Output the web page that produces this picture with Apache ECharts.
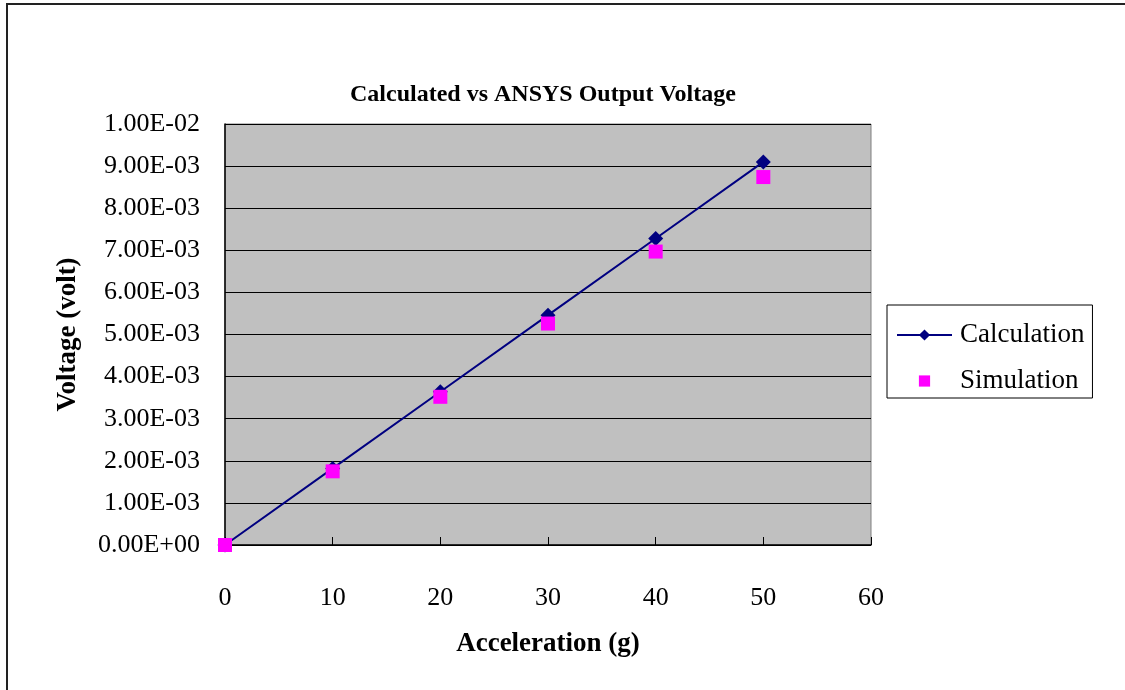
<!DOCTYPE html>
<html>
<head>
<meta charset="utf-8">
<script src="https://cdn.jsdelivr.net/npm/echarts@6/dist/echarts.min.js"></script>
<style>
  html, body { margin: 0; padding: 0; background: #fff; }
  #main { width: 1125px; height: 690px; }
</style>
</head>
<body>
<div id="main"></div>
<script>
// acceleration (g)
var acceleration = [0, 10, 20, 30, 40, 50];
// voltage (volt)
var calculation = [0, 0.00182, 0.00364, 0.00546, 0.00728, 0.0091];
var simulation = [0, 0.00175, 0.00352, 0.00526, 0.00697, 0.00874];

var xTickLabels = ['0', '10', '20', '30', '40', '50', '60'];
var yTickLabels = ['0.00E+00', '1.00E-03', '2.00E-03', '3.00E-03', '4.00E-03', '5.00E-03',
    '6.00E-03', '7.00E-03', '8.00E-03', '9.00E-03', '1.00E-02'];

var serif = '"Liberation Serif", "Times New Roman", serif';

function pairs(xs, ys) {
    return xs.map(function (x, i) { return [x, ys[i]]; });
}

var myChart = echarts.init(document.getElementById('main'));
var option = {
    backgroundColor: '#fff',
    animation: false,
    title: {
        text: 'Calculated vs ANSYS Output Voltage',
        left: 345,
        top: 78,
        textStyle: {
            fontFamily: serif,
            fontSize: 24,
            fontWeight: 'bold',
            color: '#000'
        }
    },
    graphic: [{
        type: 'rect',
        shape: { x: 7, y: 4, width: 1200, height: 800 },
        style: { fill: 'none', stroke: '#222', lineWidth: 2 },
        silent: true
    }],
    legend: {
        orient: 'vertical',
        left: 887,
        top: 305,
        padding: [15, 8, 2, 9],
        itemGap: 16,
        itemWidth: 55,
        itemHeight: 14,
        borderColor: '#000',
        borderWidth: 1,
        backgroundColor: '#fff',
        textStyle: {
            fontFamily: serif,
            fontSize: 27,
            lineHeight: 30,
            color: '#000',
            padding: [0, 0, 0, 3]
        },
        data: ['Calculation', 'Simulation']
    },
    grid: {
        left: 225,
        top: 124,
        right: 254,
        bottom: 145,
        show: true,
        backgroundColor: '#c0c0c0',
        borderColor: '#808080',
        borderWidth: 1
    },
    xAxis: {
        type: 'value',
        min: 0,
        max: 60,
        interval: 10,
        name: 'Acceleration (g)',
        nameLocation: 'middle',
        nameGap: 86,
        nameTextStyle: {
            fontFamily: serif,
            fontSize: 27,
            fontWeight: 'bold',
            color: '#000'
        },
        axisLine: { show: true, lineStyle: { color: '#000', width: 1.5 } },
        axisTick: { show: true, inside: true, length: 8, lineStyle: { color: '#000', width: 1 } },
        splitLine: { show: false },
        axisLabel: {
            margin: 40,
            fontFamily: serif,
            fontSize: 26,
            color: '#000',
            formatter: function (v) { return xTickLabels[Math.round(v / 10)]; }
        }
    },
    yAxis: {
        type: 'value',
        min: 0,
        max: 0.01,
        interval: 0.001,
        name: 'Voltage (volt)',
        nameLocation: 'middle',
        nameGap: 143,
        nameTextStyle: {
            fontFamily: serif,
            fontSize: 27,
            fontWeight: 'bold',
            color: '#000'
        },
        axisLine: { show: true, lineStyle: { color: '#000', width: 1.5 } },
        axisTick: { show: true, inside: true, length: 8, lineStyle: { color: '#000', width: 1 } },
        splitLine: { show: true, lineStyle: { color: '#000', width: 1 } },
        axisLabel: {
            margin: 25,
            fontFamily: serif,
            fontSize: 26,
            color: '#000',
            formatter: function (v) { return yTickLabels[Math.round(v / 0.001)]; }
        }
    },
    series: [{
        name: 'Calculation',
        type: 'line',
        data: pairs(acceleration, calculation),
        symbol: 'diamond',
        symbolSize: 15,
        showAllSymbol: true,
        lineStyle: { color: '#000080', width: 2 },
        itemStyle: { color: '#000080' }
    }, {
        name: 'Simulation',
        type: 'line',
        data: pairs(acceleration, simulation),
        symbol: 'rect',
        symbolSize: 14,
        showAllSymbol: true,
        lineStyle: { width: 0, opacity: 0 },
        itemStyle: { color: '#ff00ff' }
    }]
};
myChart.setOption(option);
</script>
</body>
</html>
